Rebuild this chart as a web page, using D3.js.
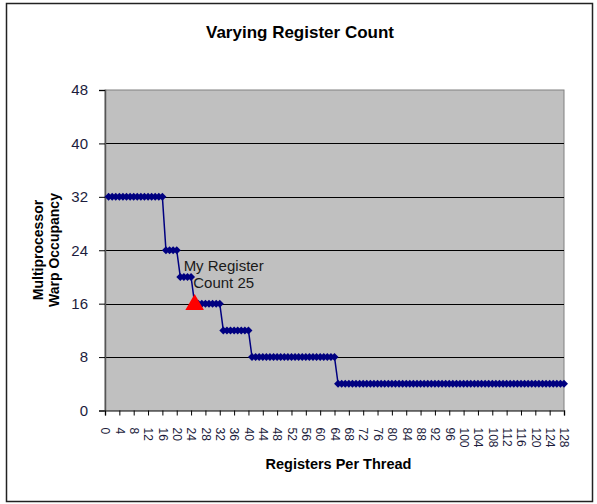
<!DOCTYPE html>
<html>
<head>
<meta charset="utf-8">
<script src="https://cdn.jsdelivr.net/npm/d3@7"></script>
<style>
  body { margin: 0; background: #fff; }
  text { font-family: Arial, "Liberation Sans", sans-serif; }
</style>
</head>
<body>
<svg id="chart" width="597" height="504"></svg>
<script>
// registers per thread (x) and warp occupancy (y)
var registers = [
  1, 2, 3, 4, 5, 6, 7, 8, 9, 10, 11, 12, 13, 14, 15, 16,
  17, 18, 19, 20, 21, 22, 23, 24, 25, 26, 27, 28, 29, 30, 31, 32,
  33, 34, 35, 36, 37, 38, 39, 40, 41, 42, 43, 44, 45, 46, 47, 48,
  49, 50, 51, 52, 53, 54, 55, 56, 57, 58, 59, 60, 61, 62, 63, 64,
  65, 66, 67, 68, 69, 70, 71, 72, 73, 74, 75, 76, 77, 78, 79, 80,
  81, 82, 83, 84, 85, 86, 87, 88, 89, 90, 91, 92, 93, 94, 95, 96,
  97, 98, 99, 100, 101, 102, 103, 104, 105, 106, 107, 108, 109, 110, 111, 112,
  113, 114, 115, 116, 117, 118, 119, 120, 121, 122, 123, 124, 125, 126, 127, 128
];
var occupancy = [
  32, 32, 32, 32, 32, 32, 32, 32, 32, 32, 32, 32, 32, 32, 32, 32,
  24, 24, 24, 24, 20, 20, 20, 20, 16, 16, 16, 16, 16, 16, 16, 16,
  12, 12, 12, 12, 12, 12, 12, 12, 8, 8, 8, 8, 8, 8, 8, 8,
  8, 8, 8, 8, 8, 8, 8, 8, 8, 8, 8, 8, 8, 8, 8, 8,
  4, 4, 4, 4, 4, 4, 4, 4, 4, 4, 4, 4, 4, 4, 4, 4,
  4, 4, 4, 4, 4, 4, 4, 4, 4, 4, 4, 4, 4, 4, 4, 4,
  4, 4, 4, 4, 4, 4, 4, 4, 4, 4, 4, 4, 4, 4, 4, 4,
  4, 4, 4, 4, 4, 4, 4, 4, 4, 4, 4, 4, 4, 4, 4, 4
];
var myRegisters = [25];
var myOccupancy = [16];
var myLabel = ["My Register", "Count 25"];

var xTicks = [0, 4, 8, 12, 16, 20, 24, 28, 32, 36, 40, 44, 48, 52, 56, 60, 64,
  68, 72, 76, 80, 84, 88, 92, 96, 100, 104, 108, 112, 116, 120, 124, 128];
var yTicks = [0, 8, 16, 24, 32, 40, 48];

var svg = d3.select("#chart");

// outer frame
svg.append("rect")
  .attr("x", 6.5).attr("y", 3.5)
  .attr("width", 586).attr("height", 498)
  .attr("fill", "#fff")
  .attr("stroke", "#222")
  .attr("stroke-width", 1.5);

var plot = { left: 105, right: 564, top: 90, bottom: 410.5 };

var x = d3.scaleLinear().domain([0, 128]).range([plot.left, plot.right]);
var y = d3.scaleLinear().domain([0, 48]).range([plot.bottom, plot.top]);

// plot background
svg.append("rect")
  .attr("x", plot.left).attr("y", plot.top)
  .attr("width", plot.right - plot.left)
  .attr("height", plot.bottom - plot.top)
  .attr("fill", "#c0c0c0")
  .attr("stroke", "#808080")
  .attr("stroke-width", 1);

// gridlines
svg.append("g")
  .selectAll("line")
  .data(yTicks.filter(function (d) { return d > 0 && d < 48; }))
  .enter()
  .append("line")
  .attr("x1", plot.left).attr("x2", plot.right)
  .attr("y1", function (d) { return Math.round(y(d)) + 0.5; })
  .attr("y2", function (d) { return Math.round(y(d)) + 0.5; })
  .attr("stroke", "#000")
  .attr("stroke-width", 1);

// y axis
var yAxis = svg.append("g")
  .attr("transform", "translate(" + plot.left + ",0)")
  .call(d3.axisLeft(y).tickValues(yTicks).tickSize(6).tickPadding(11));
yAxis.select(".domain").attr("stroke", "#555").attr("stroke-width", 1.5);
yAxis.selectAll(".tick line").attr("stroke", "#000");
yAxis.selectAll("text")
  .attr("font-size", 15)
  .attr("font-family", "Arial, 'Liberation Sans', sans-serif")
  .attr("fill", "#1c1c3c");

// x axis
var xAxis = svg.append("g")
  .attr("transform", "translate(0," + plot.bottom + ")")
  .call(d3.axisBottom(x).tickValues(xTicks).tickSize(5));
xAxis.select(".domain").attr("stroke", "#555").attr("stroke-width", 1.5);
xAxis.selectAll(".tick line").attr("stroke", "#000");
xAxis.selectAll("text")
  .attr("font-size", 12)
  .attr("font-family", "Arial, 'Liberation Sans', sans-serif")
  .attr("fill", "#1c1c3c")
  .attr("text-anchor", "start")
  .attr("x", 0).attr("y", 0)
  .attr("dy", "0.35em")
  .attr("transform", "translate(0,17) rotate(90)");

// occupancy series
var line = d3.line()
  .x(function (d, i) { return x(registers[i]); })
  .y(function (d) { return y(d); });

svg.append("path")
  .datum(occupancy)
  .attr("d", line)
  .attr("fill", "none")
  .attr("stroke", "#000080")
  .attr("stroke-width", 1.5);

svg.append("g")
  .selectAll("path")
  .data(occupancy)
  .enter()
  .append("path")
  .attr("d", "M0,-4L4,0L0,4L-4,0Z")
  .attr("transform", function (d, i) {
    return "translate(" + x(registers[i]) + "," + y(d) + ")";
  })
  .attr("fill", "#000080");

// my register count marker
var tri = d3.symbol().type(d3.symbolTriangle).size(150);
svg.append("g")
  .selectAll("path")
  .data(myOccupancy)
  .enter()
  .append("path")
  .attr("d", tri)
  .attr("transform", function (d, i) {
    return "translate(" + x(myRegisters[i]) + "," + (y(d) + 1) + ")";
  })
  .attr("fill", "#ff0000");

svg.append("g")
  .selectAll("text")
  .data(myLabel)
  .enter()
  .append("text")
  .attr("x", x(myRegisters[0]) + 29)
  .attr("y", function (d, i) { return y(myOccupancy[0]) - 32.5 + i * 16.5; })
  .attr("text-anchor", "middle")
  .attr("font-size", 15)
  .attr("fill", "#1a1a1a")
  .text(function (d) { return d; });

// titles
svg.append("text")
  .attr("x", 300).attr("y", 38)
  .attr("text-anchor", "middle")
  .attr("font-size", 17)
  .attr("font-weight", "bold")
  .text("Varying Register Count");

svg.append("text")
  .attr("x", 338.5).attr("y", 469)
  .attr("text-anchor", "middle")
  .attr("font-size", 14.5)
  .attr("font-weight", "bold")
  .text("Registers Per Thread");

var yTitle = ["Multiprocessor", "Warp Occupancy"];
svg.append("g")
  .selectAll("text")
  .data(yTitle)
  .enter()
  .append("text")
  .attr("transform", function (d, i) {
    return "translate(" + (42.5 + i * 16.5) + ",250) rotate(-90)";
  })
  .attr("text-anchor", "middle")
  .attr("font-size", 14)
  .attr("font-weight", "bold")
  .text(function (d) { return d; });
</script>
</body>
</html>
